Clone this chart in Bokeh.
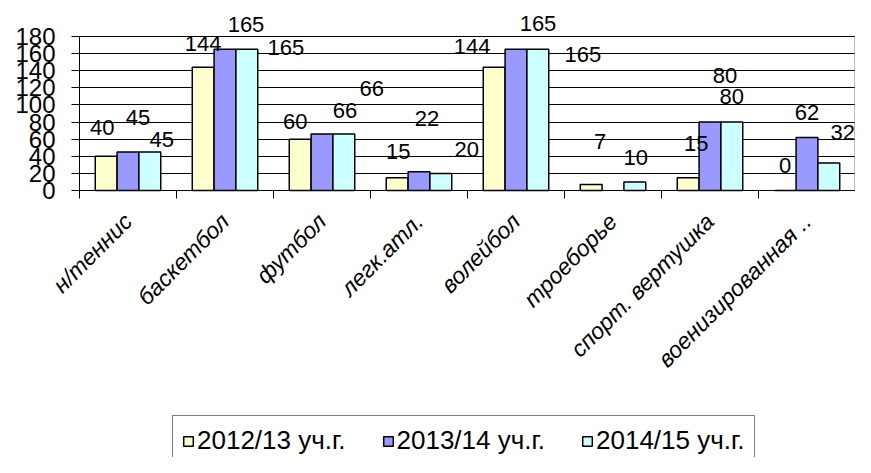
import math
from bokeh.plotting import figure
from bokeh.core.properties import value
from bokeh.models import (ColumnDataSource, Range1d, LinearAxis, Grid,
                          FixedTicker, LabelSet, Legend, LegendItem)
from bokeh.embed import file_html
from bokeh.resources import INLINE

categories = ["н/теннис", "баскетбол", "футбол", "легк.атл.", "волейбол",
              "троеборье", "спорт. вертушка", "военизированная .."]
series_names = ["2012/13 уч.г.", "2013/14 уч.г.", "2014/15 уч.г."]
y2012 = [40, 144, 60, 15, 144, 7, 15, 0]
y2013 = [45, 165, 66, 22, 165, float("nan"), 80, 62]
y2014 = [45, 165, 66, 20, 165, 10, 80, 32]
y_ticks = [0, 20, 40, 60, 80, 100, 120, 140, 160, 180]

# label placement offsets in pixels (dx right, dy up) relative to the bar top centre
label_dx = [[-4, 0, -5, 1, -22, 9, 8, 0],
            [10, 21, 23, 8, 22, 0, 15, 0],
            [12, 39, 28, 26, 45, 1, 0, 14]]
label_dy = [[29, 24, 18, 26, 21, 43, 34, 25],
            [35, 25, 24, 53, 26, 0, 47, 25],
            [13, 2, 46, 24, -5, 24, 26, 31]]

colors = ["#FFFFCC", "#9999FF", "#CCFFFF"]
offsets = [-0.225, 0.0, 0.225]
FONT = "Liberation Sans"

W, H = 855, 457
n = len(categories)
centers = [i + 0.5 for i in range(n)]
ymax = y_ticks[-1]

# canvas layout (pixels): plot area from x0px..x0px + n*cw, value 0 at y0px, ymax at ytop_px
x0px, cw = 79, 97.0
y0px, ytop_px = 190, 36
ppu = (y0px - ytop_px) / ymax
x_start = -x0px / cw
x_end = (W - x0px) / cw
y_end = ymax + ytop_px / ppu
y_start = -(H - y0px) / ppu

p = figure(x_range=Range1d(x_start, x_end), y_range=Range1d(y_start, y_end),
           width=W, height=H, output_backend="svg", toolbar_location=None,
           x_axis_location=None, y_axis_location=None,
           min_border_left=0, min_border_right=0, min_border_top=0, min_border_bottom=0)
p.background_fill_color = "white"
p.border_fill_color = "white"
p.outline_line_color = None
p.xgrid.visible = False
p.ygrid.visible = False

grid = Grid(dimension=1, ticker=FixedTicker(ticks=y_ticks), cross_bounds=(0, n),
            grid_line_color="black", grid_line_width=1)
p.add_layout(grid)

# right border of the plot area
p.segment(x0=[n], y0=[0], x1=[n], y1=[ymax], line_color="#808080", line_width=2)

renderers = []
series = [y2012, y2013, y2014]
for vals, col, off in zip(series, colors, offsets):
    src = ColumnDataSource(dict(x=[c + off for c in centers], top=vals))
    r = p.vbar(x="x", top="top", bottom=0, width=0.225, source=src,
               fill_color=col, line_color="black", line_width=1.5)
    renderers.append(r)

# data labels
for si, (vals, off) in enumerate(zip(series, offsets)):
    xs, ys, txt, dxs, dys = [], [], [], [], []
    for i, v in enumerate(vals):
        if v != v:
            continue
        xs.append(centers[i] + off)
        ys.append(v)
        txt.append(str(int(v)))
        dxs.append(label_dx[si][i])
        dys.append(label_dy[si][i])
    ls_src = ColumnDataSource(dict(x=xs, y=ys, t=txt, dx=dxs, dy=dys))
    ls = LabelSet(x="x", y="y", text="t", x_offset="dx", y_offset="dy",
                  source=ls_src, text_align="center", text_baseline="middle",
                  text_font=value(FONT), text_font_size="22px", text_color="black")
    p.add_layout(ls)

# y axis
yax = LinearAxis(fixed_location=0, bounds=(0, ymax), ticker=FixedTicker(ticks=y_ticks),
                 major_label_text_font=FONT, major_label_text_font_size="24px",
                 major_label_text_color="black", major_tick_out=8, major_tick_in=0,
                 minor_tick_out=0, minor_tick_in=0, major_label_standoff=16,
                 axis_line_color="black", major_tick_line_color="black")
p.add_layout(yax, "left")

# tick-only axis at category boundaries
tick_axis = LinearAxis(fixed_location=0, bounds=(0, n), ticker=FixedTicker(ticks=list(range(n + 1))),
                       major_label_overrides={i: "" for i in range(n + 1)}, major_label_standoff=0,
                       major_tick_out=8, major_tick_in=0, minor_tick_out=0, minor_tick_in=0,
                       axis_line_color="black", major_tick_line_color="black")
p.add_layout(tick_axis, "below")

cat_axis = LinearAxis(fixed_location=0, ticker=FixedTicker(ticks=centers),
                      major_label_overrides={c: name for c, name in zip(centers, categories)},
                      major_tick_out=0, major_tick_in=0, minor_tick_out=0, minor_tick_in=0,
                      axis_line_color=None,
                      major_label_orientation=math.pi / 4, major_label_standoff=27,
                      major_label_text_font=FONT, major_label_text_font_size="23px",
                      major_label_text_font_style="italic", major_label_text_color="black")
p.add_layout(cat_axis, "below")

legend = Legend(items=[LegendItem(label=nm, renderers=[r]) for nm, r in zip(series_names, renderers)],
                orientation="horizontal", location=(172, -9),
                label_text_font=FONT, label_text_font_size="26px", label_text_color="black",
                glyph_width=12, glyph_height=12, label_standoff=3, spacing=36, padding=9,
                border_line_color="black", border_line_width=1, background_fill_color="white",
                background_fill_alpha=1.0, margin=0)
p.add_layout(legend, "center")

open("out.html", "w").write(file_html(p, INLINE))
